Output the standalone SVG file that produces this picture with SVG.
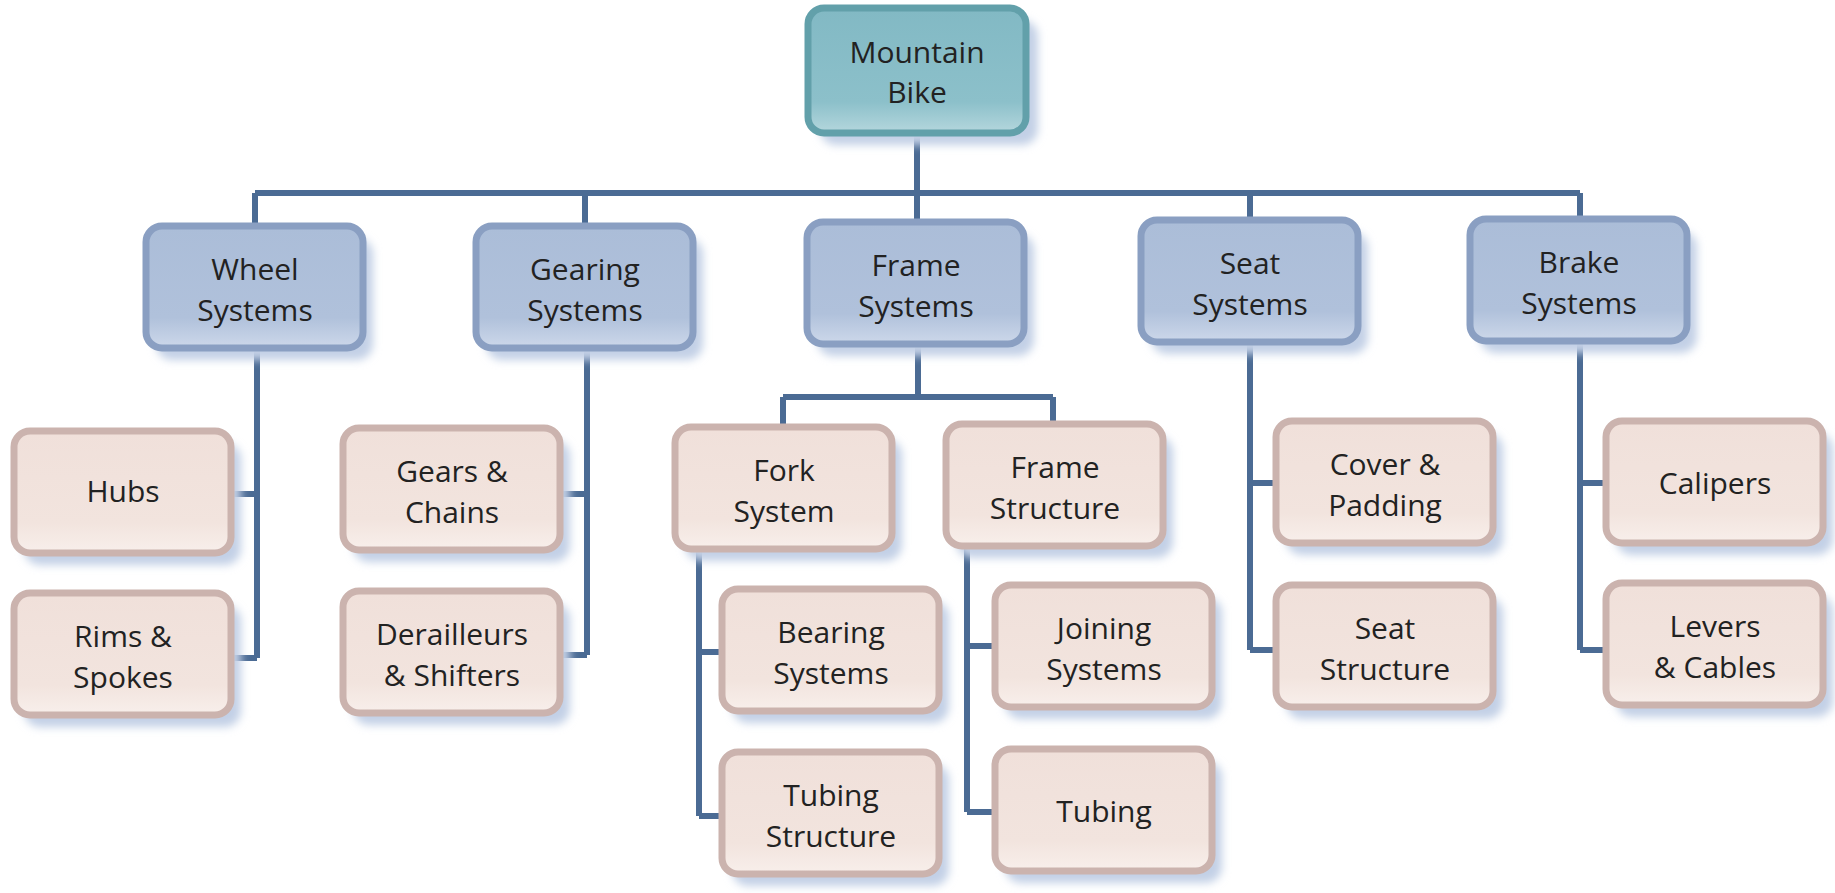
<svg xmlns="http://www.w3.org/2000/svg" width="1835" height="893" viewBox="0 0 1835 893">
<defs>
<filter id="sh" x="-20%" y="-20%" width="140%" height="150%">
<feGaussianBlur stdDeviation="4"/>
</filter>
<linearGradient id="gRoot" x1="0" y1="0" x2="0" y2="1">
<stop offset="0" stop-color="#82b9c4"/><stop offset="0.75" stop-color="#8cc0ca"/><stop offset="1" stop-color="#b5d7dd"/>
</linearGradient>
<linearGradient id="gMid" x1="0" y1="0" x2="0" y2="1">
<stop offset="0" stop-color="#abbdd8"/><stop offset="0.75" stop-color="#b0c1db"/><stop offset="1" stop-color="#cdd8ea"/>
</linearGradient>
<linearGradient id="gLeaf" x1="0" y1="0" x2="0" y2="1">
<stop offset="0" stop-color="#f0e0da"/><stop offset="0.75" stop-color="#f2e4de"/><stop offset="1" stop-color="#f8efeb"/>
</linearGradient>
</defs>
<style>
.shadow{fill:#c3d0e6;filter:url(#sh);}
.root{fill:url(#gRoot);stroke:#62a0aa;stroke-width:7;}
.mid{fill:url(#gMid);stroke:#8a9fc2;stroke-width:7;}
.leaf{fill:url(#gLeaf);stroke:#cbb3ae;stroke-width:7;}
text{font-family:"Open Sans","Liberation Sans",sans-serif;font-size:30px;fill:#222;text-anchor:middle;}
.conn{fill:none;stroke:#4b6b94;stroke-width:6;stroke-linejoin:miter;}
</style>
<rect width="1835" height="893" fill="#ffffff"/>

<g id="connectors">
<path class="conn" d="M917 133 V193 M255 193 H1580 M255 193 V226 M585 193 V226 M917 193 V222 M1250 193 V220 M1580 193 V219"/>
<path class="conn" d="M257 348 V658 M231 494 H257 M231 658 H257"/>
<path class="conn" d="M587 348 V655 M560 494 H587 M560 655 H587"/>
<path class="conn" d="M918 345 V397 M783 397 H1053 M783 397 V427 M1053 397 V424"/>
<path class="conn" d="M699 550 V816 M699 652 H722 M699 816 H722"/>
<path class="conn" d="M967 548 V812 M967 646 H995 M967 812 H995"/>
<path class="conn" d="M1250 343 V650 M1250 483 H1276 M1250 650 H1276"/>
<path class="conn" d="M1580 342 V650 M1580 483 H1606 M1580 650 H1606"/>
</g>

<g id="n-root">
<rect class="shadow" x="820" y="20" width="218" height="125" rx="16"/>
<rect class="root" x="808" y="8" width="218" height="125" rx="16"/>
<text x="917" y="63">Mountain</text><text x="917" y="103">Bike</text>
</g>

<g id="n-wheel">
<rect class="shadow" x="156" y="238" width="217" height="122" rx="16"/>
<rect class="mid" x="146" y="226" width="217" height="122" rx="16"/>
<text x="255" y="280">Wheel</text><text x="255" y="321">Systems</text>
</g>
<g id="n-gearing">
<rect class="shadow" x="486" y="238" width="217" height="122" rx="16"/>
<rect class="mid" x="476" y="226" width="217" height="122" rx="16"/>
<text x="585" y="280">Gearing</text><text x="585" y="321">Systems</text>
</g>
<g id="n-frame">
<rect class="shadow" x="817" y="234" width="217" height="122" rx="16"/>
<rect class="mid" x="807" y="222" width="217" height="122" rx="16"/>
<text x="916" y="276">Frame</text><text x="916" y="317">Systems</text>
</g>
<g id="n-seat">
<rect class="shadow" x="1151" y="232" width="217" height="122" rx="16"/>
<rect class="mid" x="1141" y="220" width="217" height="122" rx="16"/>
<text x="1250" y="274">Seat</text><text x="1250" y="315">Systems</text>
</g>
<g id="n-brake">
<rect class="shadow" x="1480" y="231" width="217" height="122" rx="16"/>
<rect class="mid" x="1470" y="219" width="217" height="122" rx="16"/>
<text x="1579" y="273">Brake</text><text x="1579" y="314">Systems</text>
</g>

<g id="n-hubs">
<rect class="shadow" x="24" y="443" width="217" height="122" rx="16"/>
<rect class="leaf" x="14" y="431" width="217" height="122" rx="16"/>
<text x="123" y="502">Hubs</text>
</g>
<g id="n-rims">
<rect class="shadow" x="24" y="605" width="217" height="122" rx="16"/>
<rect class="leaf" x="14" y="593" width="217" height="122" rx="16"/>
<text x="123" y="647">Rims &amp;</text><text x="123" y="688">Spokes</text>
</g>
<g id="n-gears">
<rect class="shadow" x="353" y="440" width="217" height="122" rx="16"/>
<rect class="leaf" x="343" y="428" width="217" height="122" rx="16"/>
<text x="452" y="482">Gears &amp;</text><text x="452" y="523">Chains</text>
</g>
<g id="n-derailleurs">
<rect class="shadow" x="353" y="603" width="217" height="122" rx="16"/>
<rect class="leaf" x="343" y="591" width="217" height="122" rx="16"/>
<text x="452" y="645">Derailleurs</text><text x="452" y="686">&amp; Shifters</text>
</g>
<g id="n-fork">
<rect class="shadow" x="685" y="439" width="217" height="122" rx="16"/>
<rect class="leaf" x="675" y="427" width="217" height="122" rx="16"/>
<text x="784" y="481">Fork</text><text x="784" y="522">System</text>
</g>
<g id="n-framestructure">
<rect class="shadow" x="956" y="436" width="217" height="122" rx="16"/>
<rect class="leaf" x="946" y="424" width="217" height="122" rx="16"/>
<text x="1055" y="478">Frame</text><text x="1055" y="519">Structure</text>
</g>
<g id="n-bearing">
<rect class="shadow" x="732" y="601" width="217" height="122" rx="16"/>
<rect class="leaf" x="722" y="589" width="217" height="122" rx="16"/>
<text x="831" y="643">Bearing</text><text x="831" y="684">Systems</text>
</g>
<g id="n-tubingstructure">
<rect class="shadow" x="732" y="764" width="217" height="122" rx="16"/>
<rect class="leaf" x="722" y="752" width="217" height="122" rx="16"/>
<text x="831" y="806">Tubing</text><text x="831" y="847">Structure</text>
</g>
<g id="n-joining">
<rect class="shadow" x="1005" y="597" width="217" height="122" rx="16"/>
<rect class="leaf" x="995" y="585" width="217" height="122" rx="16"/>
<text x="1104" y="639">Joining</text><text x="1104" y="680">Systems</text>
</g>
<g id="n-tubing">
<rect class="shadow" x="1005" y="761" width="217" height="122" rx="16"/>
<rect class="leaf" x="995" y="749" width="217" height="122" rx="16"/>
<text x="1104" y="822">Tubing</text>
</g>
<g id="n-cover">
<rect class="shadow" x="1286" y="433" width="217" height="122" rx="16"/>
<rect class="leaf" x="1276" y="421" width="217" height="122" rx="16"/>
<text x="1385" y="475">Cover &amp;</text><text x="1385" y="516">Padding</text>
</g>
<g id="n-seatstructure">
<rect class="shadow" x="1286" y="597" width="217" height="122" rx="16"/>
<rect class="leaf" x="1276" y="585" width="217" height="122" rx="16"/>
<text x="1385" y="639">Seat</text><text x="1385" y="680">Structure</text>
</g>
<g id="n-calipers">
<rect class="shadow" x="1616" y="433" width="217" height="122" rx="16"/>
<rect class="leaf" x="1606" y="421" width="217" height="122" rx="16"/>
<text x="1715" y="494">Calipers</text>
</g>
<g id="n-levers">
<rect class="shadow" x="1616" y="595" width="217" height="122" rx="16"/>
<rect class="leaf" x="1606" y="583" width="217" height="122" rx="16"/>
<text x="1715" y="637">Levers</text><text x="1715" y="678">&amp; Cables</text>
</g>
</svg>
